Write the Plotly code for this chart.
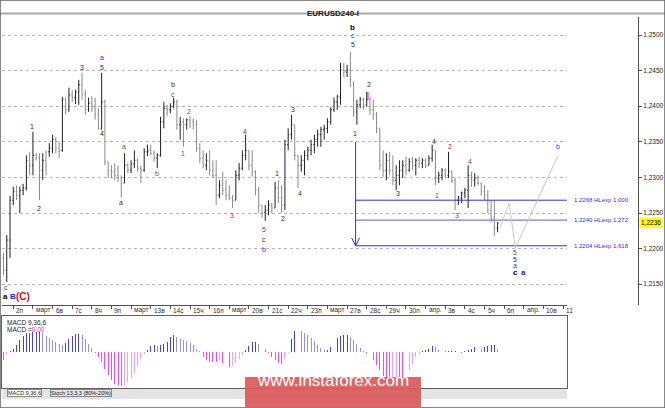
import plotly.graph_objects as go

# ---------------- data ----------------
bar_open = [1.2187,1.2170,1.2212,1.2268,1.2280,1.2275,1.2282,1.2285,1.2324,1.2317,
1.2331,1.2327,1.2310,1.2324,1.2336,1.2341,1.2353,1.2341,1.2338,1.2409,
1.2395,1.2416,1.2412,1.2420,1.2430,1.2416,1.2395,1.2404,1.2400,1.2388,
1.2369,1.2406,1.2322,1.2310,1.2308,1.2303,1.2299,1.2292,1.2317,1.2310,
1.2319,1.2324,1.2313,1.2310,1.2336,1.2338,1.2334,1.2327,1.2331,1.2378,
1.2397,1.2395,1.2400,1.2406,1.2374,1.2378,1.2374,1.2381,1.2378,1.2374,
1.2341,1.2327,1.2317,1.2324,1.2310,1.2303,1.2275,1.2289,1.2282,1.2275,
1.2271,1.2268,1.2303,1.2313,1.2331,1.2338,1.2317,1.2308,1.2282,1.2261,
1.2251,1.2254,1.2261,1.2257,1.2285,1.2271,1.2261,1.2346,1.2360,1.2374,
1.2331,1.2317,1.2324,1.2331,1.2338,1.2346,1.2353,1.2360,1.2367,1.2369,
1.2378,1.2395,1.2406,1.2413,1.2451,1.2448,1.2451,1.2434,1.2392,1.2402,
1.2409,1.2402,1.2409,1.2395,1.2388,1.2369,1.2317,1.2310,1.2324,1.2310,
1.2296,1.2303,1.2310,1.2317,1.2310,1.2322,1.2317,1.2324,1.2320,1.2324,
1.2317,1.2327,1.2338,1.2299,1.2303,1.2310,1.2303,1.2308,1.2296,1.2268,
1.2271,1.2278,1.2282,1.2303,1.2296,1.2299,1.2292,1.2280,1.2275,1.2254,
1.2243,1.2229]
bar_high = [1.2194,1.2219,1.2274,1.2287,1.2289,1.2287,1.2291,1.2331,1.2336,1.2364,
1.2334,1.2334,1.2334,1.2338,1.2348,1.2360,1.2357,1.2350,1.2413,1.2412,
1.2426,1.2423,1.2423,1.2437,1.2447,1.2423,1.2412,1.2414,1.2412,1.2397,
1.2447,1.2409,1.2322,1.2317,1.2320,1.2317,1.2303,1.2334,1.2320,1.2324,
1.2338,1.2327,1.2317,1.2341,1.2346,1.2346,1.2338,1.2334,1.2385,1.2406,
1.2402,1.2404,1.2412,1.2409,1.2385,1.2383,1.2383,1.2386,1.2383,1.2381,
1.2348,1.2338,1.2334,1.2338,1.2324,1.2324,1.2296,1.2308,1.2296,1.2289,
1.2275,1.2310,1.2320,1.2338,1.2360,1.2338,1.2338,1.2310,1.2287,1.2261,
1.2261,1.2268,1.2264,1.2294,1.2296,1.2289,1.2353,1.2369,1.2388,1.2374,
1.2331,1.2331,1.2338,1.2343,1.2353,1.2360,1.2367,1.2371,1.2374,1.2383,
1.2399,1.2412,1.2416,1.2461,1.2461,1.2458,1.2476,1.2434,1.2409,1.2413,
1.2412,1.2420,1.2413,1.2409,1.2392,1.2369,1.2338,1.2334,1.2336,1.2331,
1.2317,1.2324,1.2324,1.2329,1.2327,1.2329,1.2327,1.2329,1.2327,1.2327,
1.2331,1.2346,1.2338,1.2308,1.2313,1.2313,1.2336,1.2310,1.2299,1.2274,
1.2280,1.2285,1.2317,1.2308,1.2306,1.2303,1.2292,1.2289,1.2282,1.2268,
1.2268,1.2237]
bar_low = [1.2163,1.2153,1.2187,1.2261,1.2268,1.2250,1.2275,1.2282,1.2303,1.2303,
1.2324,1.2268,1.2296,1.2303,1.2329,1.2334,1.2334,1.2327,1.2336,1.2388,
1.2392,1.2406,1.2403,1.2402,1.2409,1.2388,1.2392,1.2392,1.2381,1.2367,
1.2367,1.2317,1.2299,1.2299,1.2296,1.2294,1.2272,1.2292,1.2306,1.2306,
1.2313,1.2308,1.2292,1.2308,1.2330,1.2331,1.2322,1.2313,1.2329,1.2369,
1.2386,1.2390,1.2397,1.2367,1.2353,1.2343,1.2367,1.2369,1.2367,1.2336,
1.2320,1.2313,1.2310,1.2303,1.2299,1.2261,1.2271,1.2275,1.2268,1.2268,
1.2257,1.2268,1.2296,1.2310,1.2324,1.2310,1.2301,1.2275,1.2250,1.2243,
1.2239,1.2247,1.2250,1.2257,1.2264,1.2250,1.2254,1.2338,1.2353,1.2324,
1.2285,1.2308,1.2303,1.2324,1.2331,1.2334,1.2343,1.2343,1.2353,1.2362,
1.2374,1.2392,1.2395,1.2402,1.2441,1.2441,1.2427,1.2385,1.2374,1.2397,
1.2395,1.2399,1.2388,1.2381,1.2362,1.2310,1.2301,1.2296,1.2303,1.2289,
1.2282,1.2289,1.2299,1.2303,1.2308,1.2310,1.2303,1.2313,1.2313,1.2313,
1.2317,1.2322,1.2289,1.2292,1.2296,1.2299,1.2299,1.2292,1.2254,1.2261,
1.2264,1.2271,1.2257,1.2287,1.2287,1.2289,1.2275,1.2268,1.2250,1.2237,
1.2218,1.2223]
bar_close = [1.2170,1.2212,1.2268,1.2280,1.2275,1.2282,1.2285,1.2324,1.2317,1.2331,
1.2327,1.2310,1.2324,1.2317,1.2341,1.2353,1.2341,1.2338,1.2409,1.2395,
1.2416,1.2412,1.2420,1.2430,1.2416,1.2395,1.2404,1.2400,1.2388,1.2369,
1.2406,1.2322,1.2310,1.2308,1.2303,1.2299,1.2292,1.2317,1.2310,1.2319,
1.2324,1.2313,1.2310,1.2336,1.2338,1.2334,1.2327,1.2331,1.2378,1.2397,
1.2395,1.2400,1.2406,1.2374,1.2378,1.2374,1.2381,1.2378,1.2374,1.2341,
1.2327,1.2317,1.2324,1.2310,1.2303,1.2275,1.2289,1.2282,1.2275,1.2271,
1.2268,1.2303,1.2313,1.2331,1.2338,1.2317,1.2308,1.2282,1.2261,1.2251,
1.2254,1.2261,1.2257,1.2285,1.2271,1.2261,1.2346,1.2360,1.2374,1.2331,
1.2317,1.2324,1.2331,1.2338,1.2346,1.2353,1.2360,1.2367,1.2369,1.2378,
1.2395,1.2406,1.2413,1.2451,1.2448,1.2451,1.2437,1.2392,1.2402,1.2409,
1.2402,1.2409,1.2395,1.2388,1.2369,1.2317,1.2310,1.2324,1.2310,1.2296,
1.2303,1.2310,1.2317,1.2310,1.2322,1.2317,1.2324,1.2320,1.2324,1.2317,
1.2327,1.2338,1.2299,1.2303,1.2310,1.2303,1.2308,1.2296,1.2268,1.2271,
1.2278,1.2282,1.2303,1.2296,1.2299,1.2292,1.2280,1.2275,1.2254,1.2243,
1.2229,1.2236]

# MACD(9,36,6) histogram, in 1e-5 price units
macd_hist = [-25,-10,3,10,22,35,48,58,58,60,60,60,58,48,42,35,30,25,22,28,
38,47,53,55,50,38,25,12,-3,-15,-30,-50,-70,-85,-95,-100,-103,-98,-90,-78,
-62,-42,-20,-5,5,18,20,18,20,25,30,45,50,45,38,35,32,28,20,10,
2,-15,-25,-30,-30,-30,-25,-32,-42,-45,-40,-32,-20,-8,5,18,30,30,25,18,
8,-2,-15,-25,-32,-35,-20,-3,40,62,68,63,56,50,42,32,22,12,5,5,
15,30,42,48,50,50,45,35,23,12,3,-3,-10,-25,-40,-55,-72,-80,-80,-76,
-75,-80,-80,-75,-55,-35,-15,-5,2,6,10,18,14,6,3,2,2,2,2,0,
-3,2,5,10,14,12,10,15,18,20,20,10]

date_labels = ["2п","март","6в","7с","8ч","9п","март","13в","14с","15ч","16п","март",
               "20в","21с","22ч","23п","март","27в","28с","29ч","30п","апр.","3в","4с",
               "5ч","6п","апр.","10в","11"]
price_ticks = [1.2150,1.2200,1.2250,1.2300,1.2350,1.2400,1.2450,1.2500]

fib_levels = [1.2268, 1.2240, 1.2204]
fib_texts = ["1,2268 HLexp 1,000", "1,2240 HLexp 1,272", "1,2204 HLexp 1,618"]
fib_start_bar = 107.6
fib_arrow_top = 1.2350
last_price = 1.2236

proj_bar = [151.8, 154.5, 156.4, 169.5]
proj_price = [1.2230, 1.2264, 1.2201, 1.2331]

mark_bar = [111.4, 111.4]
mark_price = [1.2420, 1.2409]

# wave labels: (bar index, price, text)
labels_dark = [(8.7,1.2371,"1"),(10.9,1.2257,"2"),(24.0,1.2454,"3"),(30.1,1.2455,"5"),
               (30.1,1.2361,"4"),(35.9,1.2265,"a"),(51.8,1.2430,"b"),(79.6,1.2213,"c"),
               (83.6,1.2305,"1"),(85.4,1.2242,"2"),(88.5,1.2395,"3"),(90.6,1.2278,"4"),
               (106.8,1.2486,"5"),(107.4,1.2362,"1"),(111.7,1.2430,"2"),(120.6,1.2277,"3"),
               (131.6,1.2351,"4"),(156.4,1.2185,"5")]
labels_red = [(36.9,1.2343,"a"),(46.9,1.2305,"b"),(51.8,1.2417,"c"),(54.9,1.2334,"1"),
              (56.7,1.2393,"2"),(69.8,1.2246,"3"),(73.8,1.2365,"4"),(79.6,1.2227,"5"),
              (132.5,1.2274,"1"),(136.5,1.2343,"2"),(138.6,1.2246,"3"),(142.6,1.2323,"4"),
              (156.4,1.2194,"5")]
labels_blue = [(30.1,1.2468,"a"),(79.6,1.2199,"b"),(106.8,1.2499,"c"),(156.4,1.2176,"a"),
               (169.5,1.2343,"b"),(0.8,1.2146,"c")]
labels_bold_dark = [(106.8,1.2511,"b"),(156.4,1.2166,"c"),(0.5,1.2133,"a")]
labels_bold_blue = [(158.8,1.2166,"a"),(2.9,1.2133,"B")]
labels_bold_red = [(6.0,1.2133,"(C)")]

# ---------------- layout geometry ----------------
W, H = 665, 408
FONT = "Liberation Sans"
def px(x): return x / W
def py(y): return 1 - y / H

n = len(bar_open)
idx = list(range(n))
x_left, x_right = -0.45, 172.2
y_bottom, y_top = 1.212079, 1.252528

fig = go.Figure()
fig.add_trace(go.Ohlc(
    x=idx, open=bar_open, high=bar_high, low=bar_low, close=bar_close,
    increasing=dict(line=dict(color="#202020", width=1)),
    decreasing=dict(line=dict(color="#8a8a8a", width=1)),
    tickwidth=0.3, hoverinfo="skip", xaxis="x", yaxis="y", showlegend=False))

# fib lines
fib_colors = ["#2b2bff", "#7b7bea", "#2b2bff"]
for lv, c in zip(fib_levels, fib_colors):
    fig.add_trace(go.Scatter(x=[fib_start_bar, x_right], y=[lv, lv], mode="lines",
                             line=dict(color=c, width=1.3 if c != "#2b2bff" else 1),
                             hoverinfo="skip", showlegend=False))
# vertical arrow
fig.add_trace(go.Scatter(x=[fib_start_bar, fib_start_bar], y=[fib_arrow_top, fib_levels[-1]],
                         mode="lines", line=dict(color="#2b2bff", width=1),
                         hoverinfo="skip", showlegend=False))
fig.add_trace(go.Scatter(x=[fib_start_bar - 1.2, fib_start_bar, fib_start_bar + 1.2],
                         y=[fib_levels[-1] + 0.0011, fib_levels[-1], fib_levels[-1] + 0.0011],
                         mode="lines", line=dict(color="#2b2bff", width=1),
                         hoverinfo="skip", showlegend=False))
# projection
fig.add_trace(go.Scatter(x=proj_bar, y=proj_price, mode="lines",
                         line=dict(color="#c8c8c8", width=1), hoverinfo="skip", showlegend=False))
# magenta mark
fig.add_trace(go.Scatter(x=mark_bar, y=mark_price, mode="lines",
                         line=dict(color="#ff00ff", width=1), hoverinfo="skip", showlegend=False))

# MACD histogram
cols = []
for k, v in enumerate(macd_hist):
    prev = macd_hist[k - 1] if k > 0 else v
    if v >= 0:
        cols.append("#4040f0" if v >= prev else "#9090ee")
    else:
        cols.append("#ff40ff" if v <= prev else "#ff99ff")
fig.add_trace(go.Bar(x=idx, y=macd_hist, marker=dict(color=cols, line=dict(width=0)),
                     width=0.3, xaxis="x2", yaxis="y2", hoverinfo="skip", showlegend=False))

ann = []
def add_labels(lst, color, size, bold=False):
    for (i, p, t) in lst:
        ann.append(dict(x=i, y=p, xref="x", yref="y", text=("<b>%s</b>" % t) if bold else t,
                        showarrow=False, font=dict(family=FONT, size=size, color=color)))
add_labels(labels_dark, "#303030", 7)
add_labels(labels_red, "#b03030", 7)
add_labels(labels_blue, "#3030ff", 7)
add_labels(labels_bold_dark, "#000000", 8, True)
add_labels(labels_bold_blue, "#2020ff", 8, True)
add_labels(labels_bold_red, "#e01010", 10, True)

# date labels
for k, t in enumerate(date_labels):
    ann.append(dict(x=3 + 6 * k, y=py(310), xref="x", yref="paper", text=t, showarrow=False,
                    xanchor="left", yanchor="middle", xshift=1,
                    font=dict(family=FONT, size=6.5, color="#303030")))
# fib labels
for lv, t in zip(fib_levels, fib_texts):
    ann.append(dict(x=px(572), y=lv, xref="paper", yref="y", text=t, showarrow=False,
                    xanchor="left", yanchor="middle",
                    font=dict(family=FONT, size=6, color="#2b2bff")))
# current price tag
ann.append(dict(x=px(639), y=last_price, xref="paper", yref="y", text="1,2236", showarrow=False,
                xanchor="left", yanchor="middle", bgcolor="#ffff00", borderpad=1,
                font=dict(family=FONT, size=6.5, color="#000000")))
# title
ann.append(dict(x=0.5, y=py(7), xref="paper", yref="paper", text="<b>EURUSD240-I</b>",
                showarrow=False, font=dict(family=FONT, size=8, color="#202020")))
# MACD texts
ann.append(dict(x=px(5), y=py(322), xref="paper", yref="paper", text="MACD 9,36,6",
                showarrow=False, xanchor="left", yanchor="middle",
                font=dict(family=FONT, size=6.5, color="#202020")))
ann.append(dict(x=px(5), y=py(329), xref="paper", yref="paper",
                text="MACD =<span style='color:#ff00ff'>0,00</span>",
                showarrow=False, xanchor="left", yanchor="middle",
                font=dict(family=FONT, size=6.5, color="#202020")))
# tabs
ann.append(dict(x=px(7), y=py(393), xref="paper", yref="paper", text="MACD 9,36,6",
                showarrow=False, xanchor="left", yanchor="middle", bgcolor="#ffffff",
                bordercolor="#888888", borderwidth=1, borderpad=0,
                font=dict(family=FONT, size=5.5, color="#202020")))
ann.append(dict(x=px(50), y=py(393), xref="paper", yref="paper", text="Stoch 13,3,3 (80%-20%)",
                showarrow=False, xanchor="left", yanchor="middle",
                bordercolor="#888888", borderwidth=1, borderpad=0,
                font=dict(family=FONT, size=5.5, color="#202020")))
# watermark
ann.append(dict(x=px(333), y=py(392), xref="paper", yref="paper", text="www.instaforex.com",
                showarrow=False, font=dict(family=FONT, size=17, color="#ffffff")))

shapes = [
    dict(type="rect", xref="paper", yref="paper", x0=px(2), x1=px(567), y0=py(399), y1=py(389),
         fillcolor="#e4e4e4", line=dict(width=0), layer="below"),
    dict(type="rect", xref="paper", yref="paper", x0=px(245), x1=px(421), y0=py(407), y1=py(377),
         fillcolor="rgba(221,90,90,0.93)", line=dict(width=0), layer="above"),
    dict(type="line", xref="paper", yref="paper", x0=0, x1=1, y0=py(13.5), y1=py(13.5),
         line=dict(color="#a8a8a8", width=2)),
    dict(type="rect", xref="paper", yref="paper", x0=0, x1=1, y0=0, y1=1,
         line=dict(color="#606060", width=1.5)),
]

fig.update_layout(
    width=W, height=H, margin=dict(l=0, r=0, t=0, b=0),
    paper_bgcolor="#ffffff", plot_bgcolor="#ffffff",
    separators=",.", showlegend=False, bargap=0,
    font=dict(family=FONT, size=7, color="#202020"),
    xaxis=dict(domain=[px(2), px(567)], range=[x_left, x_right], anchor="y",
               rangeslider=dict(visible=False), showgrid=False, zeroline=False,
               showline=True, linecolor="#505050", linewidth=1,
               ticks="outside", ticklen=3, tickcolor="#505050",
               tickvals=[3 + 6 * k for k in range(len(date_labels))], showticklabels=False),
    yaxis=dict(domain=[py(305), py(17)], range=[y_bottom, y_top], anchor="free",
               position=px(638), side="right", tickvals=price_ticks, tickformat=".4f",
               showgrid=True, gridcolor="#b4b4b4", griddash="dot", gridwidth=1,
               zeroline=False, showline=True, linecolor="#505050", linewidth=1,
               ticks="outside", ticklen=3, tickcolor="#505050",
               tickfont=dict(family=FONT, size=6.5, color="#202020")),
    xaxis2=dict(domain=[px(2), px(567)], range=[x_left, x_right], anchor="y2",
                showgrid=False, zeroline=False, showticklabels=False, ticks="",
                showline=True, mirror=True, linecolor="#606060", linewidth=1),
    yaxis2=dict(domain=[py(388), py(316)], range=[-108, 108], anchor="x2",
                showgrid=False, zeroline=False, showticklabels=False, ticks="",
                showline=True, mirror=True, linecolor="#606060", linewidth=1),
    annotations=ann, shapes=shapes,
)

fig.write_html("out.html",
               config={"displayModeBar": False, "staticPlot": True},
               post_script="document.body.style.margin='0';document.body.style.padding='0';"
                           "document.body.style.overflow='hidden';")
